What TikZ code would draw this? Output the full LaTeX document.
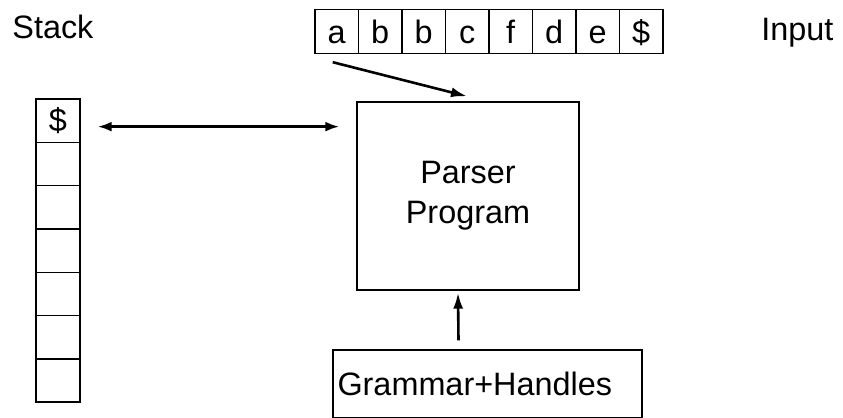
\documentclass[tikz,border=0pt]{standalone}
\usepackage{fontspec}
\setmainfont{Liberation Sans}
\usetikzlibrary{arrows.meta}

\begin{document}
\begin{tikzpicture}[x=0.5pt,y=-0.5pt,
    cell/.style={draw,line width=.7pt,inner sep=0pt,
      text height=12pt,text depth=0pt,
      minimum width=21.75pt,minimum height=22pt},
    pbox/.style={draw,line width=.7pt},
    flow/.style={line width=1.3pt,-{Latex[length=8pt,width=5pt]}}]
  \fontsize{16.2}{20}\selectfont
  \useasboundingbox (0,0) rectangle (843,418);
  % labels
  \node (stk) [anchor=base west,inner sep=0pt] at (12,38) {Stack};
  \node (inp) [anchor=base west,inner sep=0pt] at (761,40) {Input};
  % input tape
  \foreach \s [count=\i] in {a,b,b,c,f,d,e,\$}
    \node (in\i) [cell] at (315+43.5*\i-21.75,31.5) {\s};
  % stack
  \foreach \i in {1,...,7}
    \node (st\i) [cell,minimum width=22pt,minimum height=21.65pt]
      at (58,99+43.3*\i-21.65) {};
  \node at (st1) {\$};
  % parser and grammar
  \node (parser) [pbox,minimum width=111pt,minimum height=94pt,
    align=center] at (468,196) {Parser\\Program};
  \node (gram) [pbox,minimum width=154.5pt,minimum height=34pt,
    text width=150pt,inner xsep=2pt,align=left] at (487.5,384)
    {Grammar+Handles};
  % connectors
  \draw[flow] ([shift={(-4,8)}]in1.south) -- ([shift={(-1,-5)}]parser.north);
  \path ([shift={(17,6)}]st1.east) coordinate (linkl);
  \path (linkl -| parser.west) ++(-17,0) coordinate (linkr);
  \draw[line width=1.3pt,{Latex[length=7pt,width=5pt]}-{Latex[length=7pt,width=5pt]}]
    (linkl) -- (linkr);
  \draw[flow] ([shift={(-29,-9)}]gram.north) -- ([shift={(-10,2)}]parser.south);
\end{tikzpicture}
\end{document}
